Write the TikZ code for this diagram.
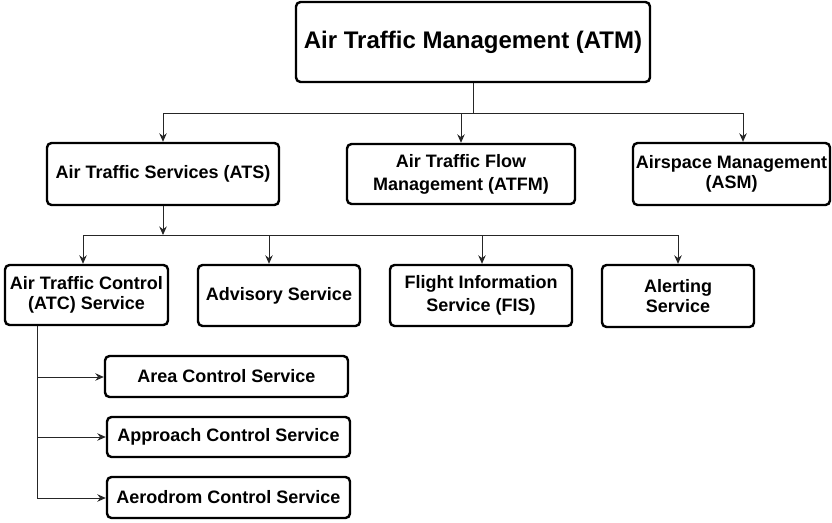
\documentclass[tikz,border=0pt]{standalone}
\usepackage{fontspec}
\setmainfont{Liberation Sans}
\usetikzlibrary{arrows.meta}
\begin{document}
\begin{tikzpicture}[x=1pt,y=-1pt,
  box/.style={draw=black, line width=2.4pt, rounded corners=4.5pt, inner sep=0pt, align=center,
    font=\bfseries\fontsize{18}{20.5}\selectfont, fill=white},
  wide/.style={font=\bfseries\fontsize{18}{23}\selectfont},
  conn/.style={draw=black!85, line width=1pt},
  arr/.style={conn, -{Stealth[length=8.5pt,width=7.5pt]}}]
\useasboundingbox (0,0) rectangle (832,522);
% top
\node[box, minimum width=354pt, minimum height=80pt, font=\bfseries\fontsize{24}{28}\selectfont] (atm) at (473,42) {Air Traffic Management (ATM)};
% level 1
\node[box, minimum width=232pt, minimum height=62pt] (ats) at (163,174) {Air Traffic Services (ATS)};
\node[box, wide, minimum width=228pt, minimum height=60pt] (atfm) at (461,174) {Air Traffic Flow\\Management (ATFM)};
\node[box, minimum width=197pt, minimum height=62pt] (asm) at (731.5,174) {Airspace Management\\(ASM)};
% level 2
\node[box, minimum width=163pt, minimum height=60pt] (atc) at (86.5,295) {Air Traffic Control\\(ATC) Service};
\node[box, minimum width=162pt, minimum height=61pt] (adv) at (279,295.5) {Advisory Service};
\node[box, wide, minimum width=182pt, minimum height=61pt] (fis) at (481,295.5) {Flight Information\\Service (FIS)};
\node[box, minimum width=152pt, minimum height=62pt] (alert) at (678,296) {Alerting\\Service};
% level 3
\node[box, minimum width=243pt, minimum height=41pt] (area) at (226.5,376.5) {Area Control Service};
\node[box, minimum width=243pt, minimum height=40pt] (appr) at (228.5,437) {Approach Control Service};
\node[box, minimum width=243pt, minimum height=41pt] (aero) at (228.5,497.5) {Aerodrom Control Service};
% bus 1
\coordinate (b1) at (473,113);
\coordinate (d1) at (163,113);
\coordinate (d2) at (461,113);
\coordinate (d3) at (743,113);
\draw[conn] (atm.south) -- (b1);
\draw[conn] (d1) -- (d3);
\draw[arr] (d1) -- (d1 |- ats.north);
\draw[arr] (d2) -- (d2 |- atfm.north);
\draw[arr] (d3) -- (d3 |- asm.north);
% bus 2
\coordinate (b2) at (163,235);
\coordinate (e1) at (83,235);
\coordinate (e2) at (269,235);
\coordinate (e3) at (482,235);
\coordinate (e4) at (678,235);
\draw[arr] (ats.south) -- (b2);
\draw[conn] (e1) -- (e4);
\draw[arr] (e1) -- (e1 |- atc.north);
\draw[arr] (e2) -- (e2 |- adv.north);
\draw[arr] (e3) -- (e3 |- fis.north);
\draw[arr] (e4) -- (e4 |- alert.north);
% bus 3
\coordinate (t) at (37,325);
\coordinate (f1) at (37,377);
\coordinate (f2) at (37,437);
\coordinate (f3) at (37,498);
\draw[conn] (t |- atc.south) -- (f3);
\draw[arr] (f1) -- (f1 -| area.west);
\draw[arr] (f2) -- (f2 -| appr.west);
\draw[arr] (f3) -- (f3 -| aero.west);
\end{tikzpicture}
\end{document}
